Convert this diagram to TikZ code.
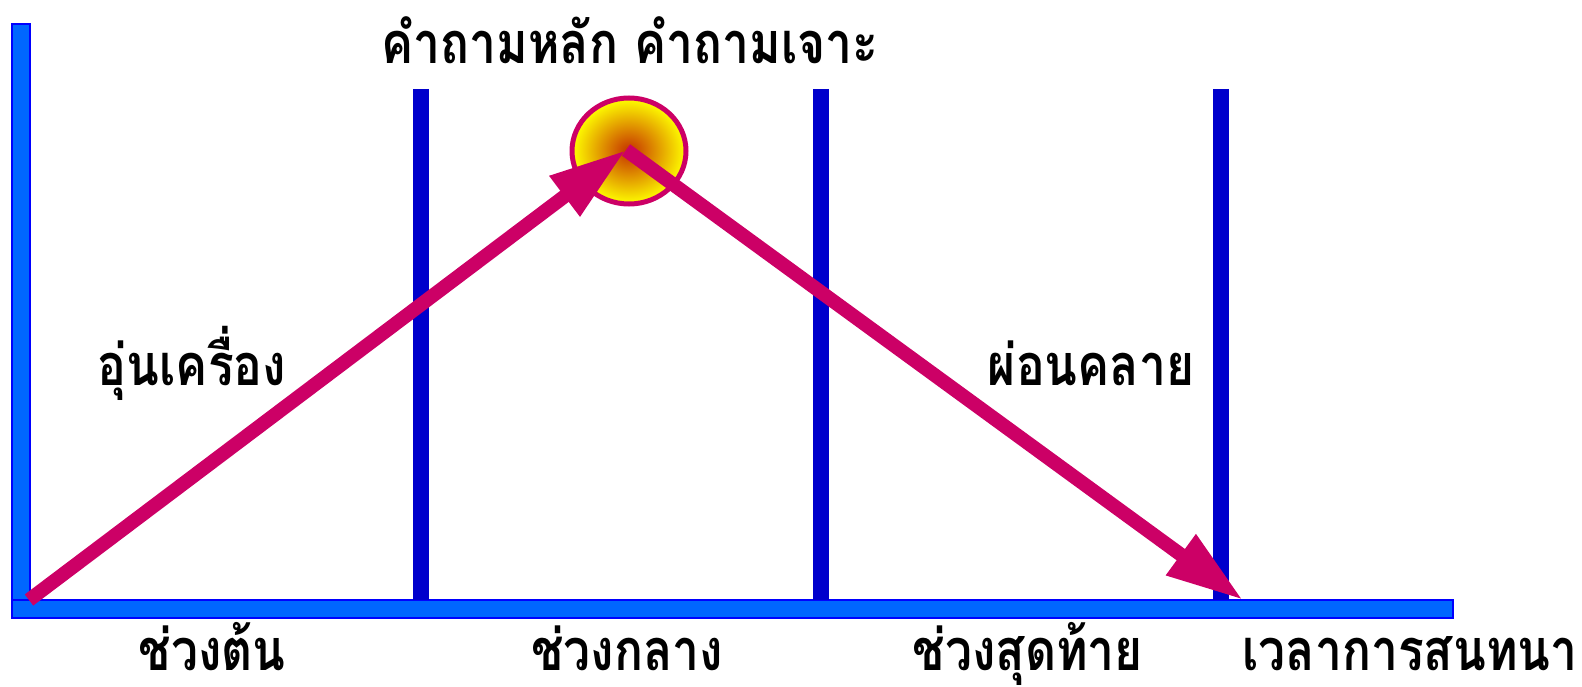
\documentclass[tikz,border=0pt]{standalone}
\usepackage{fontspec}
\newfontfamily\thaifont[Script=Thai]{Loma}
\usetikzlibrary{arrows.meta,shapes.geometric}
\definecolor{axfill}{HTML}{0066FF}
\definecolor{axline}{HTML}{0000FF}
\definecolor{divider}{HTML}{0000CC}
\definecolor{mag}{HTML}{CC0066}
\definecolor{core}{HTML}{C43000}
\newcommand{\tall}[1]{\scalebox{1}[1.2]{#1}}
\tikzset{
  axbar/.style={fill=axfill, draw=axline, line width=2pt},
  divline/.style={divider, line width=16pt},
  arr/.style={mag, line width=14pt, -{Triangle[length=77pt,width=47pt]}},
  lbl/.style={font=\thaifont\bfseries\fontsize{48}{54}\selectfont, text=black, inner sep=0pt, anchor=base, text depth=2pt}
}
\begin{document}
\begin{tikzpicture}[x=1pt,y=-1pt]
\useasboundingbox (0,0) rectangle (1582,687);
% axes
\draw[axbar] (12,24) rectangle (30,609);
\draw[axbar] (12,600) rectangle (1453,618);
% dividers
\coordinate (d1t) at (421,89); \coordinate (d1b) at (421,600);
\coordinate (d2t) at (821,89); \coordinate (d2b) at (821,600);
\coordinate (d3t) at (1221,89); \coordinate (d3b) at (1221,600);
\draw[divline] (d1t) -- (d1b);
\draw[divline] (d2t) -- (d2b);
\draw[divline] (d3t) -- (d3b);
% sun
\node[ellipse, minimum width=114pt, minimum height=106pt, inner sep=0pt,
      draw=mag, line width=5pt, inner color=core, outer color=yellow] (sun) at (629,151) {};
% arrows
\coordinate (o) at (29,600);
\coordinate (peak) at (626,150);
\coordinate (fin) at (1243,600);
\draw[arr] (o) -- (peak);
\draw[arr] (peak) -- (fin);
% labels
\node[lbl] (top) at (630,64) {\tall{คำถามหลัก คำถามเจาะ}};
\node[lbl] (warm) at (192,385) {\tall{อุ่นเครื่อง}};
\node[lbl] (relax) at (1091,385) {\tall{ผ่อนคลาย}};
\node[lbl] (p1) at (212,670) {\tall{ช่วงต้น}};
\node[lbl] (p2) at (627,670) {\tall{ช่วงกลาง}};
\node[lbl] (p3) at (1028,670) {\tall{ช่วงสุดท้าย}};
\node[lbl] (time) at (1410,670) {\tall{เวลาการสนทนา}};
\end{tikzpicture}
\end{document}
